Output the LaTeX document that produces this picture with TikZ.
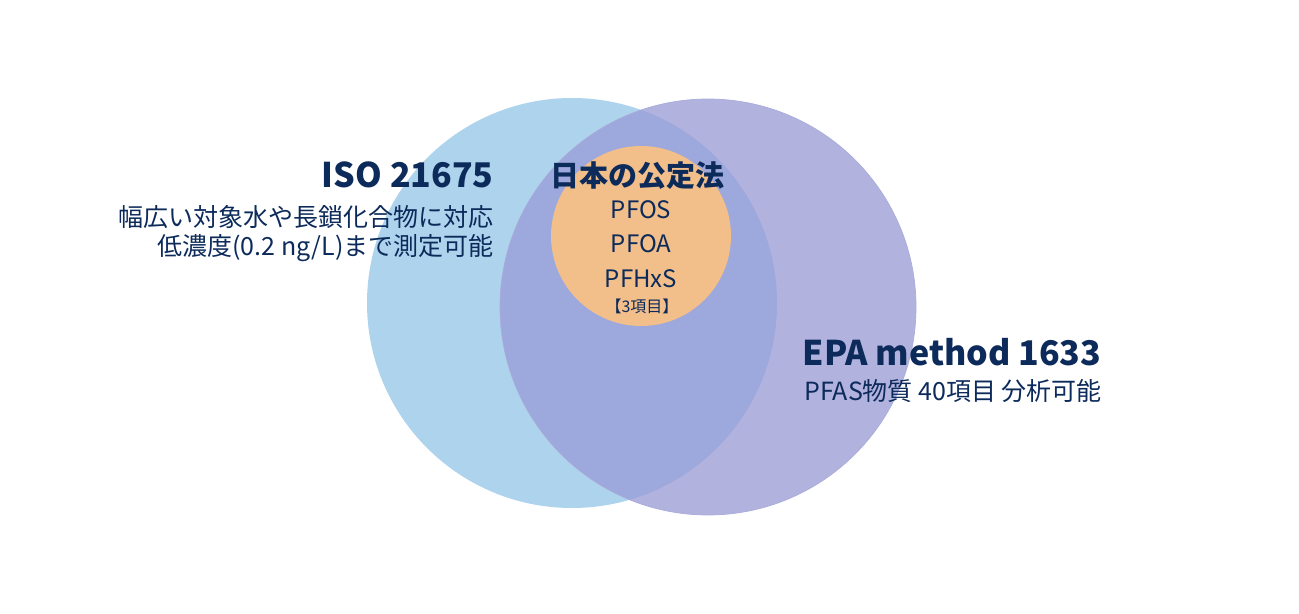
\documentclass[tikz,border=0pt]{standalone}
\usepackage{fontspec}
\setmainfont{Noto Sans CJK JP}
\usetikzlibrary{positioning}
\definecolor{isoblue}{RGB}{174,211,237}
\definecolor{epapurple}{RGB}{177,178,222}
\definecolor{bothpurple}{RGB}{157,168,220}
\definecolor{edgepurple}{RGB}{170,172,219}
\definecolor{jporange}{RGB}{242,190,138}
\definecolor{navy}{RGB}{12,42,90}
\begin{document}
\begin{tikzpicture}[x=0.5pt, y=-0.5pt,
  venn/.style={circle, inner sep=0pt, draw=none},
  head/.style={font=\fontsize{17}{20}\selectfont\bfseries, text=navy, inner sep=0pt},
  txt/.style={font=\fontsize{12.5}{15}\selectfont, text=navy, inner sep=0pt},
  item/.style={font=\fontsize{12}{14}\selectfont, text=navy, inner sep=0pt}]
\useasboundingbox (0,0) rectangle (1299,614);
% the three sets
\node[venn, fill=isoblue, minimum size=205pt] (iso) at (572,303) {};
\node[venn, fill=epapurple, minimum size=208pt] (epa) at (708,307) {};
\begin{scope}
  \clip (iso.center) circle[radius=102.5pt];
  \fill[bothpurple] (epa.center) circle[radius=104pt];
\end{scope}
\draw[edgepurple, line width=0.35pt] (epa.center) circle[radius=104pt];
\node[venn, fill=jporange, minimum size=90pt] (jp) at (641,236) {};
% ISO side
\node[head, anchor=east] (isoname) at (494,175) {ISO 21675};
\node[txt, anchor=east] (isoline1) at (494,217) {幅広い対象水や長鎖化合物に対応};
\node[txt, anchor=east] (isoline2) at (494,248) {低濃度(0.2 ng/L)まで測定可能};
% Japanese official method
\node[head, font=\fontsize{14.5}{17}\selectfont\bfseries] (jpname) at (637,176) {日本の公定法};
\node[item] (pfos) at (641,210) {PFOS};
\node[item] (pfoa) at (641,244) {PFOA};
\node[item] (pfhxs) at (641,279) {PFHxS};
\node[item, font=\fontsize{8}{10}\selectfont] (jpcount) at (642,306) {【3項目】};
% EPA side
\node[head] (epaname) at (952,352) {EPA method 1633};
\node[txt] (epaline) at (953,391) {PFAS物質 40項目 分析可能};
\end{tikzpicture}
\end{document}
